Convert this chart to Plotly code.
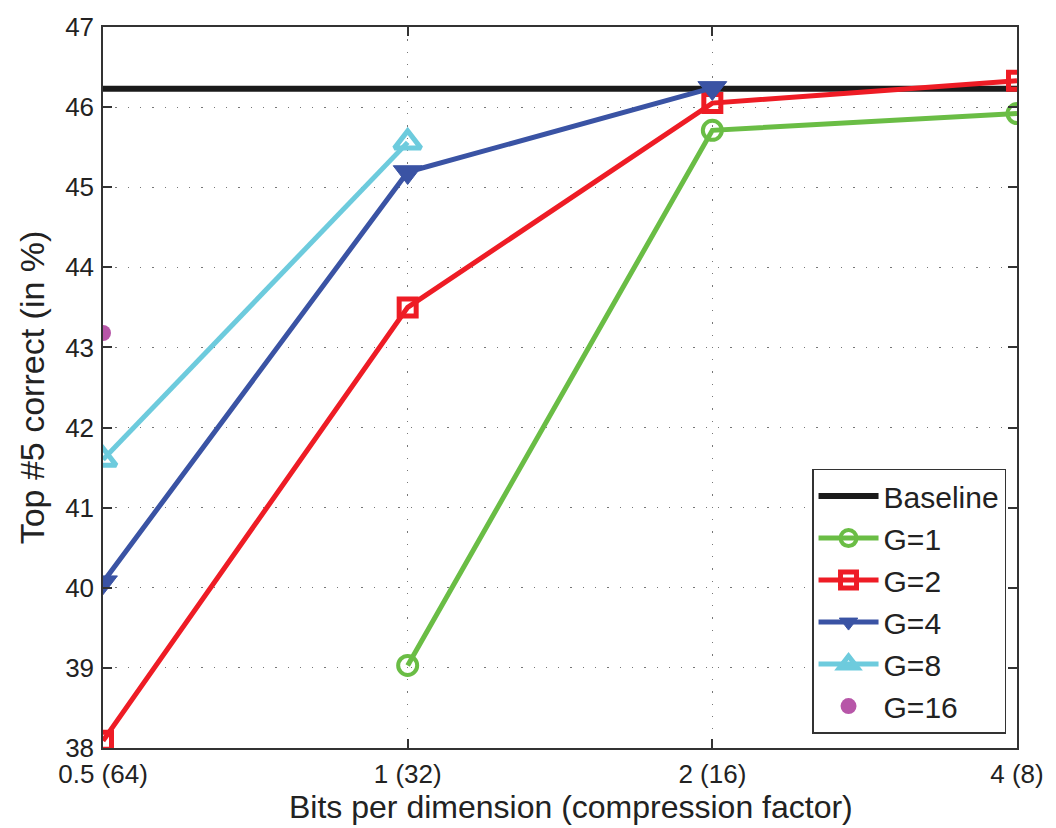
import plotly.graph_objects as go

x_labels = ["0.5 (64)", "1 (32)", "2 (16)", "4 (8)"]
x_pos = [0, 1, 2, 3]

baseline = 46.23
g1_x = [1, 2, 3]
g1_y = [39.03, 45.71, 45.92]
g2_x = [0, 1, 2, 3]
g2_y = [38.09, 43.50, 46.05, 46.33]
g4_x = [0, 1, 2]
g4_y = [40.07, 45.19, 46.24]
g8_x = [0, 1]
g8_y = [41.60, 45.56]
g16_x = [0]
g16_y = [43.18]

GREEN = "#6abd45"
RED = "#ee1c25"
BLUE = "#3a53a4"
CYAN = "#6dcbdd"
PURPLE = "#b756a8"

fig = go.Figure()
fig.add_trace(go.Scatter(x=[x_pos[0], x_pos[-1]], y=[baseline, baseline], mode="lines",
                         line=dict(color="#1a1a1a", width=6), name="Baseline"))
fig.add_trace(go.Scatter(x=g1_x, y=g1_y, mode="lines+markers", name="G=1",
                         line=dict(color=GREEN, width=5),
                         marker=dict(symbol="circle-open", size=19, color=GREEN, line=dict(width=4))))
fig.add_trace(go.Scatter(x=g2_x, y=g2_y, mode="lines+markers", name="G=2",
                         line=dict(color=RED, width=5),
                         marker=dict(symbol="square-open", size=17, color=RED, line=dict(width=5))))
fig.add_trace(go.Scatter(x=g4_x, y=g4_y, mode="lines+markers", name="G=4",
                         line=dict(color=BLUE, width=5),
                         marker=dict(symbol="triangle-down", size=25, color=BLUE, line=dict(width=1, color=BLUE))))
fig.add_trace(go.Scatter(x=g8_x, y=g8_y, mode="lines+markers", name="G=8",
                         line=dict(color=CYAN, width=5),
                         marker=dict(symbol="triangle-up-open", size=23, color=CYAN, line=dict(width=5))))
fig.add_trace(go.Scatter(x=g16_x, y=g16_y, mode="markers", name="G=16",
                         marker=dict(symbol="circle", size=16, color=PURPLE)))

axis_common = dict(showline=True, linecolor="#333333", linewidth=1.5, mirror="ticks",
                   ticks="inside", ticklen=9, tickcolor="#333333", tickwidth=1.5,
                   showgrid=True, gridcolor="#777777", gridwidth=1.3, griddash="1.3px,11px",
                   zeroline=False, tickfont=dict(size=26, color="#222222", family="Liberation Sans, Arial"))

fig.update_xaxes(range=[0, 3], tickvals=x_pos, ticktext=x_labels, ticklabelstandoff=2,
                 **axis_common)
fig.update_yaxes(range=[38, 47], dtick=1, ticklabelstandoff=2,
                 title=dict(text="Top #5 correct (in %)", font=dict(size=34, color="#222222"), standoff=10),
                 **axis_common)

fig.add_annotation(text="Bits per dimension (compression factor)", xref="paper", yref="paper",
                   x=0.512, y=-0.11, xanchor="center", yanchor="bottom", showarrow=False,
                   font=dict(size=32, color="#222222", family="Liberation Sans, Arial"))

fig.update_layout(
    width=1056, height=828,
    margin=dict(l=103, r=30, t=22, b=80),
    plot_bgcolor="white", paper_bgcolor="white",
    font=dict(family="Liberation Sans, Arial", color="#222222"),
    legend=dict(x=0.988, y=0.02, xanchor="right", yanchor="bottom",
                bgcolor="white", bordercolor="#333333", borderwidth=1.5,
                font=dict(size=30, color="#222222"), itemwidth=60, tracegroupgap=0),
    showlegend=True,
)

fig.write_html("out.html")
